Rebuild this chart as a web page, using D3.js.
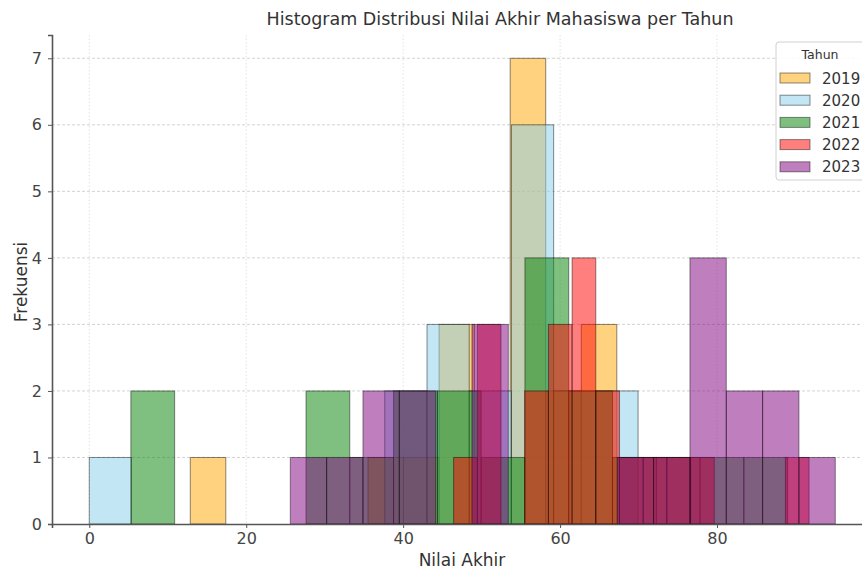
<!DOCTYPE html>
<html>
<head>
<meta charset="utf-8">
<script src="https://cdn.jsdelivr.net/npm/d3@7"></script>
<style>
  body { margin: 0; background: #fff; }
  svg { font-family: "DejaVu Sans", sans-serif; }
</style>
</head>
<body>
<div id="chart"></div>
<script>
// tahun dan warna
const years = ["2019", "2020", "2021", "2022", "2023"];
const colors = ["orange", "skyblue", "green", "red", "purple"];

// tepi bin tiap tahun (nilai awal, lebar bin)
const binStart = [12.87, 0, 5.30, 46.43, 25.62];
const binWidth = [4.53, 5.38, 5.58, 3.02, 4.63];

// frekuensi per bin
const counts2019 = [1, 0, 0, 0, 0, 1, 1, 3, 0, 7, 2, 3];
const counts2020 = [1, 0, 0, 0, 0, 0, 0, 2, 3, 2, 6, 2, 2];
const counts2021 = [2, 0, 0, 0, 2, 1, 2, 2, 1, 4, 2, 1, 1, 1, 1];
const counts2022 = [1, 3, 0, 2, 3, 4, 2, 1, 1, 1, 1, 0, 0, 0, 1];
const counts2023 = [1, 1, 2, 2, 0, 3, 0, 0, 0, 1, 1, 4, 2, 2, 1];
const allCounts = [counts2019, counts2020, counts2021, counts2022, counts2023];

const xTicks = [0, 20, 40, 60, 80];
const yTicks = [0, 1, 2, 3, 4, 5, 6, 7];

const width = 862;
const height = 571;
const margin = { top: 35, right: -10, bottom: 47, left: 52 };

const svg = d3.select("#chart")
    .append("svg")
    .attr("width", width)
    .attr("height", height);

const xScale = d3.scaleLinear()
    .domain([-4.75, 99.75])
    .range([margin.left, width - margin.right]);
const yScale = d3.scaleLinear()
    .domain([0, 7.35])
    .range([height - margin.bottom, margin.top]);

// grid
svg.append("g")
    .selectAll("line")
    .data(yTicks.slice(1))
    .enter()
    .append("line")
    .attr("x1", margin.left)
    .attr("x2", width)
    .attr("y1", d => yScale(d))
    .attr("y2", d => yScale(d))
    .attr("stroke", "#c8c8c8")
    .attr("stroke-width", 0.8)
    .attr("stroke-dasharray", "3,2");
svg.append("g")
    .selectAll("line")
    .data(xTicks)
    .enter()
    .append("line")
    .attr("x1", d => xScale(d))
    .attr("x2", d => xScale(d))
    .attr("y1", margin.top)
    .attr("y2", yScale(0))
    .attr("stroke", "#dadada")
    .attr("stroke-width", 0.8)
    .attr("stroke-dasharray", "1.5,2");

// histogram bars, one layer per year
years.forEach((year, i) => {
    const bins = allCounts[i].map((c, k) => ({
        x0: binStart[i] + k * binWidth[i],
        x1: binStart[i] + (k + 1) * binWidth[i],
        count: c
    })).filter(b => b.count > 0);
    svg.append("g")
        .selectAll("rect")
        .data(bins)
        .enter()
        .append("rect")
        .attr("x", d => xScale(d.x0))
        .attr("y", d => yScale(d.count))
        .attr("width", d => xScale(d.x1) - xScale(d.x0))
        .attr("height", d => yScale(0) - yScale(d.count))
        .attr("fill", colors[i])
        .attr("fill-opacity", 0.5)
        .attr("stroke", "rgba(0,0,0,0.45)")
        .attr("stroke-width", 1);
});

// axes
const xAxis = d3.axisBottom(xScale).tickValues(xTicks).tickSize(4).tickPadding(5);
const yAxis = d3.axisLeft(yScale).tickValues(yTicks).tickSize(4).tickPadding(6);
const gx = svg.append("g")
    .attr("transform", `translate(0,${yScale(0)})`)
    .call(xAxis);
const gy = svg.append("g")
    .attr("transform", `translate(${margin.left},0)`)
    .call(yAxis);
[gx, gy].forEach(g => {
    g.select(".domain").attr("stroke", "#555").attr("stroke-width", 1.6);
    g.selectAll(".tick line").attr("stroke", "#555");
    g.selectAll(".tick text")
        .attr("fill", "#444")
        .style("font-size", "16px")
        .style("font-family", "DejaVu Sans");
});

svg.append("text")
    .attr("x", 500)
    .attr("y", 25)
    .attr("text-anchor", "middle")
    .attr("fill", "#333")
    .style("font-size", "17.5px")
    .text("Histogram Distribusi Nilai Akhir Mahasiswa per Tahun");

svg.append("text")
    .attr("x", 462)
    .attr("y", 566)
    .attr("text-anchor", "middle")
    .attr("fill", "#333")
    .style("font-size", "17px")
    .text("Nilai Akhir");

svg.append("text")
    .attr("transform", "translate(27,282) rotate(-90)")
    .attr("text-anchor", "middle")
    .attr("fill", "#333")
    .style("font-size", "17px")
    .text("Frekuensi");

// legend
const legend = svg.append("g").attr("transform", "translate(776,42)");
legend.append("rect")
    .attr("width", 110)
    .attr("height", 138)
    .attr("rx", 3)
    .attr("fill", "rgba(255,255,255,0.85)")
    .attr("stroke", "#d0d0d0");
legend.append("text")
    .attr("x", 44)
    .attr("y", 17)
    .attr("text-anchor", "middle")
    .attr("fill", "#333")
    .style("font-size", "12.5px")
    .text("Tahun");
years.forEach((year, i) => {
    const row = legend.append("g").attr("transform", `translate(0,${36 + i * 22.2})`);
    row.append("rect")
        .attr("x", 4)
        .attr("y", -5)
        .attr("width", 30)
        .attr("height", 10)
        .attr("fill", colors[i])
        .attr("fill-opacity", 0.5)
        .attr("stroke", "rgba(0,0,0,0.45)");
    row.append("text")
        .attr("x", 46)
        .attr("y", 5.5)
        .attr("fill", "#333")
        .style("font-size", "15px")
        .text(year);
});
</script>
</body>
</html>
